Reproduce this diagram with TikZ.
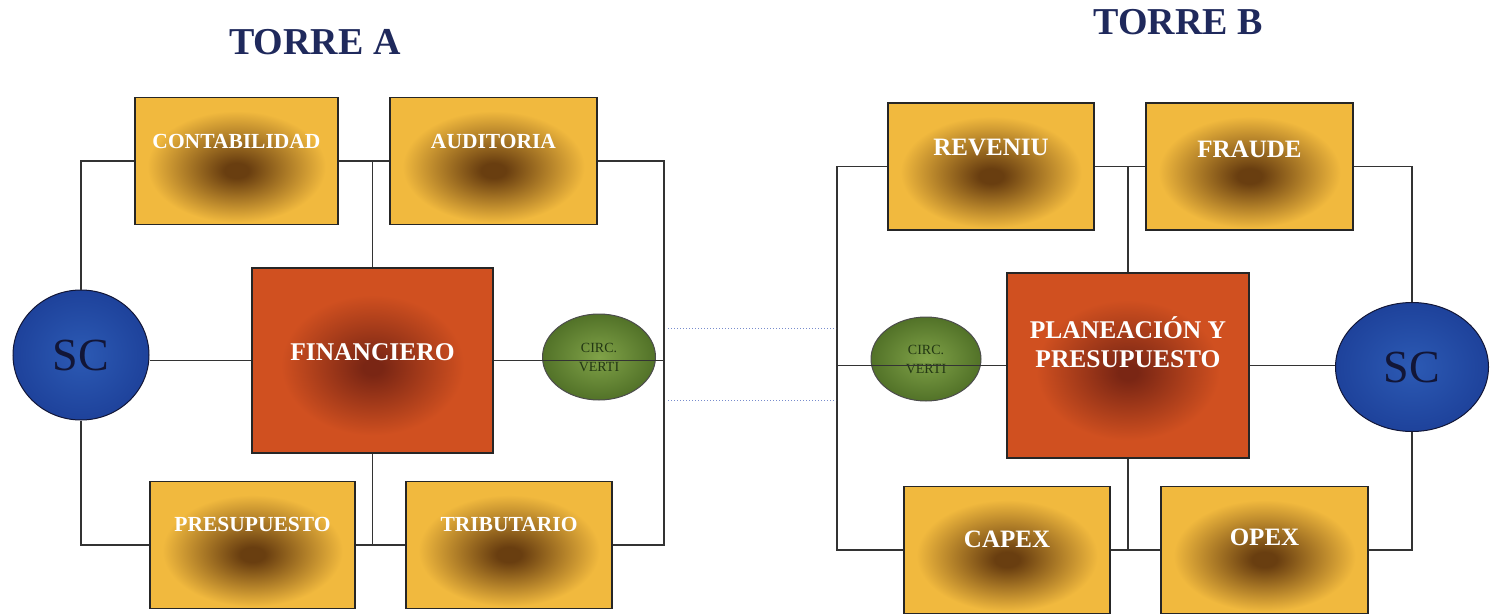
\documentclass[tikz,border=0pt]{standalone}
\usepackage{fontspec}
\setmainfont{Liberation Serif}
\usepackage{xcolor}
\usepackage{tikz}
\usetikzlibrary{shapes.geometric}
\usetikzlibrary{calc}

\definecolor{towerink}{RGB}{31,41,92}
\definecolor{glowlight}{RGB}{241,185,62}
\definecolor{glowdark}{RGB}{105,62,16}
\definecolor{coreorange}{RGB}{208,80,32}
\definecolor{coredark}{RGB}{122,38,20}
\definecolor{scblue}{RGB}{44,90,180}
\definecolor{scdeep}{RGB}{30,66,155}
\definecolor{scink}{RGB}{18,22,55}
\definecolor{circgreen}{RGB}{128,162,72}
\definecolor{circdeep}{RGB}{82,114,40}
\definecolor{circink}{RGB}{35,55,20}
\definecolor{linkblue}{RGB}{120,140,205}

\pgfdeclareradialshading{boxglow}{\pgfpoint{0bp}{-4bp}}{color(0bp)=(glowdark); color(3bp)=(glowdark); color(22bp)=(glowlight); color(50bp)=(glowlight)}
\pgfdeclareradialshading{coreglow}{\pgfpoint{0bp}{-2bp}}{color(0bp)=(coredark); color(2bp)=(coredark); color(19bp)=(coreorange); color(50bp)=(coreorange)}

\tikzset{
  wire/.style={draw=black!80, line width=1.5pt},
  linkline/.style={draw=linkblue, line width=1pt, dotted},
  unitbox/.style={draw=black!85, line width=1.4pt, shade, shading=boxglow, minimum height=127pt, inner sep=0pt},
  corebox/.style={draw=black!85, line width=1.4pt, shade, shading=coreglow, minimum width=241pt, minimum height=185pt, inner sep=0pt},
  leftlabel/.style={anchor=center, text=white, font=\bfseries\fontsize{21.5}{24}\selectfont},
  rightlabel/.style={anchor=center, text=white, font=\bfseries\fontsize{25}{28}\selectfont},
  corelabel/.style={anchor=center, text=white, align=center, font=\bfseries\fontsize{25.5}{29}\selectfont},
  scnode/.style={ellipse, draw=scink, line width=1pt, inner color=scblue, outer color=scdeep, inner sep=0pt, text=scink, font=\fontsize{46}{50}\selectfont},
  circnode/.style={ellipse, draw=black!70, line width=1pt, inner color=circgreen, outer color=circdeep, inner sep=0pt, text=circink, align=center, font=\fontsize{14}{19}\selectfont},
  towertitle/.style={text=towerink, font=\bfseries\fontsize{38}{42}\selectfont}
}

\begin{document}
\begin{tikzpicture}[x=1pt,y=-1pt]
\useasboundingbox (0,0) rectangle (1491,615);
\coordinate (busA) at (664,0);
\coordinate (busB) at (837,0);

\node[towertitle] (torreA) at (315,42) {TORRE A};
\node[towertitle] (torreB) at (1178,22) {TORRE B};

% torre A
\node[unitbox, minimum width=203pt, label={[leftlabel,yshift=-45pt]north:CONTABILIDAD}] (contab) at (236.5,161) {};
\node[unitbox, minimum width=207pt, label={[leftlabel,yshift=-45pt]north:AUDITORIA}] (audit) at (493.5,161) {};
\node[unitbox, minimum width=205pt, label={[leftlabel,yshift=-44pt]north:PRESUPUESTO}] (presu) at (252.5,545) {};
\node[unitbox, minimum width=206pt, label={[leftlabel,yshift=-44pt]north:TRIBUTARIO}] (trib) at (509,545) {};
\node[corebox, label={[corelabel,yshift=8pt]center:FINANCIERO}] (fin) at (372.5,360.5) {};
\node[scnode, minimum width=136pt, minimum height=130pt] (scA) at (81,355) {SC};
\node[circnode, minimum width=113pt, minimum height=86pt] (circA) at (599,357) {CIRC.\\VERTI};

\draw[wire] (scA.north) |- (contab.west);
\draw[wire] (scA.south) |- (presu.west);
\draw[wire] (fin.west) -- (fin.west -| scA.east);
\draw[wire] (contab.east) -- (audit.west);
\draw[wire] (fin.north) -- (fin.north |- contab.east);
\draw[wire] (fin.south) -- (fin.south |- presu.east);
\draw[wire] (presu.east) -- (trib.west);
\draw[wire] (audit.east) -- (audit.east -| busA) -- (trib.east -| busA) -- (trib.east);
\draw[wire] (fin.east) -- (fin.east -| busA);

% torre B
\node[unitbox, minimum width=206pt, label={[rightlabel,yshift=-45pt]north:REVENIU}] (reven) at (991,166.5) {};
\node[unitbox, minimum width=207pt, label={[rightlabel,yshift=-47pt]north:FRAUDE}] (fraud) at (1249.5,166.5) {};
\node[unitbox, minimum width=206pt, label={[rightlabel,yshift=-54pt]north:CAPEX}] (capex) at (1007,550) {};
\node[unitbox, minimum width=207pt, label={[rightlabel,yshift=-52pt]north:OPEX}] (opex) at (1264.5,550) {};
\node[corebox, minimum width=242pt, label={[corelabel,yshift=23pt]center:PLANEACIÓN Y\\PRESUPUESTO}] (plan) at (1128,365.5) {};
\node[scnode, minimum width=153pt, minimum height=129pt] (scB) at (1412,367) {SC};
\node[circnode, minimum width=110pt, minimum height=84pt] (circB) at (926,359) {CIRC.\\VERTI};

\draw[wire] (reven.west) -- (reven.west -| busB) -- (capex.west -| busB) -- (capex.west);
\draw[wire] (reven.east) -- (fraud.west);
\draw[wire] (plan.north) -- (plan.north |- reven.east);
\draw[wire] (plan.south) -- (plan.south |- capex.east);
\draw[wire] (capex.east) -- (opex.west);
\draw[wire] (fraud.east) -| (scB.north);
\draw[wire] (opex.east) -| (scB.south);
\draw[wire] (plan.east) -- (plan.east -| scB.west);
\draw[wire] (plan.west) -- (plan.west -| busB);

\foreach \n/\yy in {1/328,2/400} {
  \coordinate (linkA\n) at (668,\yy);
  \coordinate (linkB\n) at (836,\yy);
  \draw[linkline] (linkA\n) -- (linkB\n);
}
\end{tikzpicture}
\end{document}
